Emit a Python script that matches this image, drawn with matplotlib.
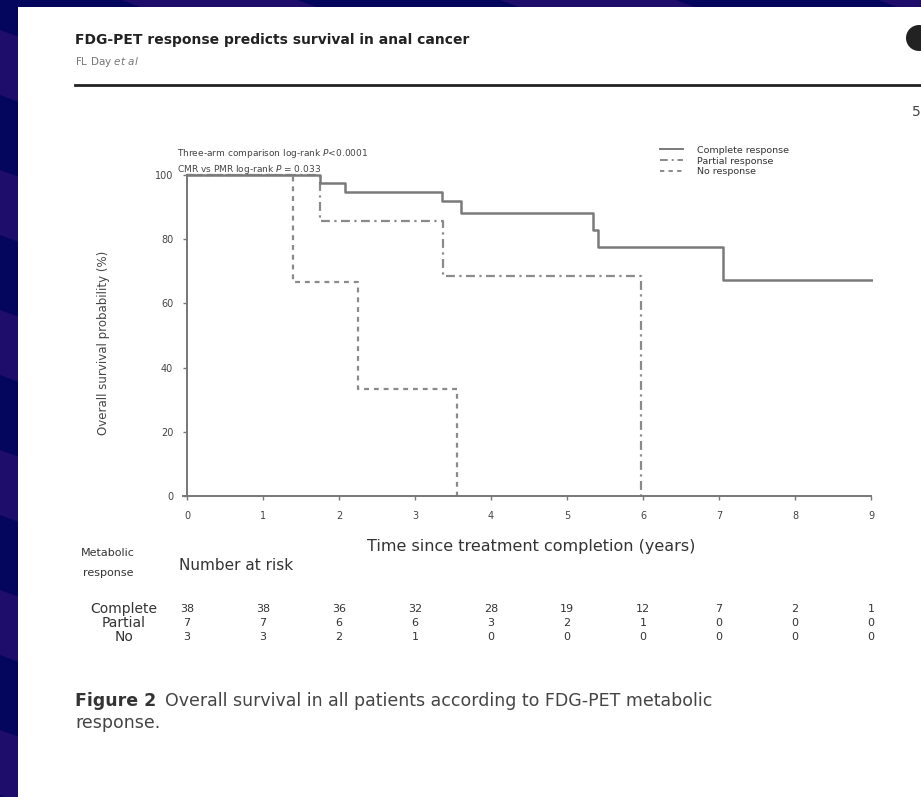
import matplotlib
matplotlib.use("Agg")
import matplotlib.pyplot as plt
from matplotlib.patches import Rectangle, Ellipse, Polygon
from matplotlib.lines import Line2D
import matplotlib.transforms as mtransforms

plt.rcParams["font.family"] = ["DejaVu Sans"]
plt.rcParams["mathtext.fontset"] = "dejavusans"

# Kaplan-Meier steps (time in years, survival in %)
complete_t = [0, 1.75, 2.08, 3.35, 3.61, 5.34, 5.41, 7.05, 9.03]
complete_s = [100, 97.4, 94.7, 91.8, 88.2, 83.0, 77.7, 67.3, 67.3]
partial_t = [0, 1.75, 3.37, 5.98]
partial_s = [100, 85.7, 68.6, 0]
no_t = [0, 1.40, 2.25, 3.55]
no_s = [100, 66.7, 33.3, 0]

years = list(range(10))
risk_labels = ["Complete", "Partial", "No"]
risk_complete = [38, 38, 36, 32, 28, 19, 12, 7, 2, 1]
risk_partial = [7, 7, 6, 6, 3, 2, 1, 0, 0, 0]
risk_no = [3, 3, 2, 1, 0, 0, 0, 0, 0, 0]

W, H = 921, 797
fig = plt.figure(figsize=(W / 100, H / 100), dpi=100)
fig.patch.set_facecolor("#04065e")


def fx(px):
    return px / W


def fy(py):
    return 1 - py / H


# slide background: slanted purple bands, then the white page on top
slope = 0.37
for k in range(-3, 8):
    c0 = -250 + 140 * k
    c1 = c0 + 65
    pts = [(-50, c0 - 50 * slope), (W + 50, c0 + (W + 50) * slope),
           (W + 50, c1 + (W + 50) * slope), (-50, c1 - 50 * slope)]
    fig.patches.append(Polygon([(fx(x), fy(y)) for x, y in pts], closed=True,
                               transform=fig.transFigure, facecolor="#1f0d6c",
                               edgecolor="none", zorder=0))
fig.patches.append(Rectangle((fx(18), 0), 1 - fx(18), fy(7), transform=fig.transFigure,
                             facecolor="white", edgecolor="none", zorder=1))

# header
fig.text(fx(75), fy(40), "FDG-PET response predicts survival in anal cancer",
         fontsize=10, fontweight="bold", color="#222222", va="center", zorder=3)
fig.text(fx(75), fy(62), "FL Day $\\it{et\\ al}$", fontsize=7.5, color="#777777",
         va="center", zorder=3)
fig.lines.append(Line2D([fx(75), 1], [fy(85), fy(85)], transform=fig.transFigure,
                        color="#222222", lw=2, zorder=3))
fig.patches.append(Ellipse((fx(919), fy(38)), 26 / W, 26 / H, transform=fig.transFigure,
                           facecolor="#222222", edgecolor="none", zorder=3))
fig.text(fx(912), fy(112), "5", fontsize=10, color="#444444", va="center", zorder=3)

# survival plot
ax = fig.add_axes([fx(181), fy(500.8), fx(872.5) - fx(181), fy(171.8) - fy(500.8)])
ax.set_zorder(4)
ax.patch.set_alpha(0)
ax.set_xlim(-0.08, 9.02)
ax.set_ylim(-1.5, 101)
ax.spines[["top", "right"]].set_visible(False)
ax.spines["left"].set_position(("data", 0))
ax.spines["left"].set_bounds(0, 100)
ax.spines["bottom"].set_position(("data", 0))
ax.spines["bottom"].set_bounds(-0.06, 9.0)
for s in ["left", "bottom"]:
    ax.spines[s].set_color("#777777")
    ax.spines[s].set_linewidth(1.4)
ax.set_xticks(years)
ax.set_yticks([0, 20, 40, 60, 80, 100])
ax.tick_params(colors="#777777", labelcolor="#444444", labelsize=7, length=3, width=1)
ax.tick_params(axis="x", pad=8)
ax.tick_params(axis="y", pad=7)

ax.step(no_t, no_s, where="post", color="#8a8a8a", lw=1.6, ls=(0, (2.2, 2.2)))
ax.step(partial_t, partial_s, where="post", color="#8a8a8a", lw=1.6, ls=(0, (4, 2, 1, 2)))
ax.step(complete_t, complete_s, where="post", color="#7a7a7a", lw=1.8)

ax.set_ylabel("Overall survival probability (%)", fontsize=8.5, color="#444444")
ax.yaxis.set_label_coords(fx(110), 0.48)
ax.yaxis.label.set_transform(mtransforms.blended_transform_factory(fig.transFigure, ax.transAxes))

handles = [Line2D([], [], color="#7a7a7a", lw=1.4),
           Line2D([], [], color="#8a8a8a", lw=1.4, ls=(0, (4, 2, 1, 2))),
           Line2D([], [], color="#8a8a8a", lw=1.4, ls=(0, (2.2, 2.2)))]
ax.legend(handles, ["Complete response", "Partial response", "No response"],
          loc="upper left", bbox_to_anchor=(fx(655), fy(141)), bbox_transform=fig.transFigure,
          frameon=False, fontsize=6.8, handlelength=2.5, handletextpad=1.4,
          labelspacing=0.2, borderpad=0, labelcolor="#333333")

fig.text(fx(177), fy(153), "Three-arm comparison log-rank $\\it{P}$<0.0001",
         fontsize=6.5, color="#444444", va="center", zorder=5)
fig.text(fx(177), fy(170), "CMR vs PMR log-rank $\\it{P}$ = 0.033",
         fontsize=6.5, color="#444444", va="center", zorder=5)

fig.text(fx(531), fy(547), "Time since treatment completion (years)", fontsize=11.5,
         color="#333333", ha="center", va="center", zorder=5)

# number at risk table
fig.text(fx(108), fy(553), "Metabolic", fontsize=8, color="#333333",
         ha="center", va="center", zorder=5)
fig.text(fx(108), fy(573), "response", fontsize=8, color="#333333",
         ha="center", va="center", zorder=5)
fig.text(fx(179), fy(565), "Number at risk", fontsize=11, color="#333333",
         va="center", zorder=5)
trans = mtransforms.blended_transform_factory(ax.transData, fig.transFigure)
for label, row, py in zip(risk_labels, [risk_complete, risk_partial, risk_no], [609, 623, 637]):
    fig.text(fx(124), fy(py), label, fontsize=10, color="#333333", ha="center",
             va="center", zorder=5)
    for t, n in zip(years, row):
        ax.text(t, fy(py), str(n), transform=trans, fontsize=8, color="#333333",
                ha="center", va="center", clip_on=False)

# caption
fig.text(fx(75), fy(701), "Figure 2", fontsize=12.5, fontweight="bold", color="#333333",
         va="center", zorder=5)
fig.text(fx(165), fy(701), "Overall survival in all patients according to FDG-PET metabolic",
         fontsize=12.5, color="#444444", va="center", zorder=5)
fig.text(fx(75), fy(723), "response.", fontsize=12.5, color="#444444", va="center", zorder=5)

fig.savefig("out.png", dpi=100)
